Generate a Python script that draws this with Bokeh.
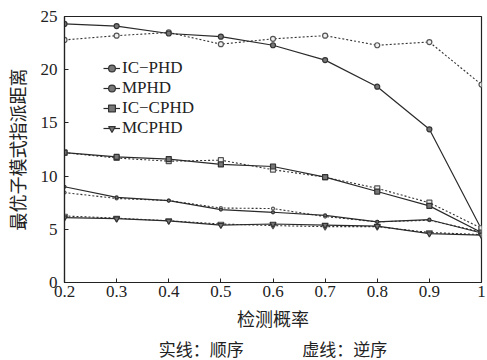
from bokeh.plotting import figure
from bokeh.models import Range1d, FixedTicker, Legend, LegendItem, Title
from bokeh.embed import file_html
from bokeh.resources import INLINE

x = [0.2, 0.3, 0.4, 0.5, 0.6, 0.7, 0.8, 0.9, 1.0]

icphd_solid = [24.3, 24.1, 23.4, 23.1, 22.3, 20.9, 18.4, 14.4, 5.0]
icphd_dash = [22.8, 23.2, 23.5, 22.4, 22.9, 23.2, 22.3, 22.6, 18.6]
mphd_solid = [9.0, 8.0, 7.7, 6.85, 6.6, 6.3, 5.7, 5.9, 4.65]
mphd_dash = [8.45, 7.9, 7.7, 7.0, 6.95, 6.2, 5.7, 5.85, 4.75]
iccphd_solid = [12.2, 11.8, 11.6, 11.1, 10.9, 9.9, 8.55, 7.2, 4.7]
iccphd_dash = [12.2, 11.7, 11.4, 11.5, 10.6, 9.9, 8.85, 7.5, 5.1]
mcphd_solid = [6.1, 6.0, 5.8, 5.4, 5.5, 5.4, 5.3, 4.6, 4.45]
mcphd_dash = [6.25, 6.05, 5.8, 5.5, 5.35, 5.25, 5.25, 4.7, 4.5]

names = ["IC\u2212PHD", "MPHD", "IC\u2212CPHD", "MCPHD"]
markers = ["circle", "circle", "square", "inverted_triangle"]
msizes = [5, 3, 5, 6]
solids = [icphd_solid, mphd_solid, iccphd_solid, mcphd_solid]
dashes = [icphd_dash, mphd_dash, iccphd_dash, mcphd_dash]

x_ticks = [0.2, 0.3, 0.4, 0.5, 0.6, 0.7, 0.8, 0.9, 1.0]
x_labels = {0.2: "0.2", 0.3: "0.3", 0.4: "0.4", 0.5: "0.5", 0.6: "0.6",
            0.7: "0.7", 0.8: "0.8", 0.9: "0.9", 1.0: "1"}
y_ticks = [0, 5, 10, 15, 20, 25]
caption = "实线：顺序\u3000\u3000\u3000\u00a0\u00a0虚线：逆序"

SERIF = "Liberation Serif"
CJK = "Noto Sans CJK SC"

p = figure(width=487, height=360, output_backend="svg", toolbar_location=None,
           x_range=Range1d(0.2, 1.0), y_range=Range1d(0, 25),
           min_border_left=63, min_border_right=6, min_border_top=16,
           min_border_bottom=73)
p.background_fill_color = "white"
p.border_fill_color = "white"
p.grid.visible = False
p.outline_line_color = "#222222"
p.outline_line_width = 1.2

for ax in (p.xaxis[0], p.yaxis[0]):
    ax.major_tick_in = 4
    ax.major_tick_out = 0
    ax.minor_tick_line_color = None
    ax.axis_line_color = "#222222"
    ax.axis_line_width = 1.2
    ax.major_tick_line_color = "#222222"
    ax.major_label_text_font = SERIF
    ax.major_label_text_font_size = "17px"
    ax.major_label_text_color = "#222222"
    ax.axis_label_text_font = CJK
    ax.axis_label_text_font_size = "18px"
    ax.axis_label_text_font_style = "normal"
    ax.axis_label_text_color = "#222222"

p.xaxis.ticker = FixedTicker(ticks=x_ticks)
p.xaxis.major_label_overrides = x_labels
p.xaxis.major_label_standoff = 3
p.xaxis.axis_label = "检测概率"
p.xaxis.axis_label_standoff = 5
p.yaxis.ticker = FixedTicker(ticks=y_ticks)
p.yaxis.major_label_standoff = 7
p.yaxis.axis_label = "最优子模式指派距离"
p.yaxis.axis_label_standoff = 8

items = []
for name, mk, ms, ys, yd in zip(names, markers, msizes, solids, dashes):
    ld = p.line(x, yd, line_color="#333333", line_width=1.1, line_dash="2 2")
    sd = p.scatter(x, yd, marker=mk, size=ms, fill_color="#f0f0f0",
                   line_color="#555555", line_width=1.2)
    l = p.line(x, ys, line_color="#2a2a2a", line_width=1.2)
    s = p.scatter(x, ys, marker=mk, size=ms, fill_color="#777777",
                  line_color="#333333", line_width=1.2)
    items.append(LegendItem(label=name, renderers=[l, s]))

legend = Legend(items=items, location=(39, 144), border_line_color=None,
                background_fill_alpha=0, padding=0, margin=0, spacing=0,
                label_text_font=SERIF, label_text_font_size="17px",
                label_text_color="#222222", glyph_width=17, glyph_height=18,
                label_height=18, label_standoff=2)
p.add_layout(legend, "center")

cap = Title(text=caption, align="center", text_font=CJK,
            text_font_size="17px", text_font_style="normal",
            text_color="#222222", standoff=0, offset=0)
p.add_layout(cap, "below")

open("out.html", "w").write(file_html(p, INLINE))
